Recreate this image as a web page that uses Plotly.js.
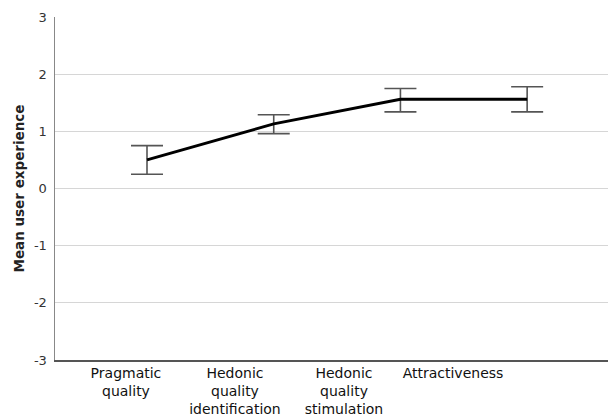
<!DOCTYPE html>
<html>
<head>
<meta charset="utf-8">
<script src="https://cdn.plot.ly/plotly-3.0.1.min.js"></script>
<style>html,body{margin:0;padding:0;background:#fff;}#chart{width:608px;height:418px;}</style>
</head>
<body>
<div id="chart"></div>
<script>
var categories = ["Pragmatic quality", "Hedonic quality identification", "Hedonic quality stimulation", "Attractiveness"];
var tickLabels = ["Pragmatic<br>quality", "Hedonic<br>quality<br>identification", "Hedonic<br>quality<br>stimulation", "Attractiveness"];
var yTickVals = [-3, -2, -1, 0, 1, 2, 3];
var yTickText = ["-3", "-2", "-1", "0", "1", "2", "3"];
var means = [0.50, 1.13, 1.56, 1.56];
var upper = [0.75, 1.29, 1.75, 1.78];
var lower = [0.25, 0.96, 1.34, 1.34];

var errPlus = means.map(function(m, i){ return upper[i] - m; });
var errMinus = means.map(function(m, i){ return m - lower[i]; });

var trace = {
  x: categories,
  y: means,
  type: 'scatter',
  mode: 'lines',
  line: {color: '#000', width: 3},
  error_y: {type: 'data', symmetric: false, array: errPlus, arrayminus: errMinus,
            color: '#555', thickness: 1.6, width: 16},
  xaxis: 'x', yaxis: 'y',
  hoverinfo: 'none'
};

var layout = {
  width: 608, height: 418,
  margin: {l: 55, r: 0, t: 17, b: 58},
  paper_bgcolor: '#fff', plot_bgcolor: '#fff',
  showlegend: false,
  font: {family: 'DejaVu Sans', color: '#222'},
  xaxis: {
    type: 'category', range: [-0.726, 3.638],
    showticklabels: false, showgrid: false, zeroline: false,
    showline: true, linecolor: '#555', linewidth: 1.5, ticks: ''
  },
  xaxis2: {
    overlaying: 'x', side: 'bottom', range: [-0.651, 4.422],
    tickmode: 'array', tickvals: [0, 1, 2, 3], ticktext: tickLabels,
    showgrid: false, zeroline: false, showline: false, ticks: '',
    ticklabelstandoff: 3,
    tickfont: {family: 'DejaVu Sans', size: 14, color: '#111'}
  },
  yaxis: {
    range: [-3, 3], tickmode: 'array', tickvals: yTickVals, ticktext: yTickText,
    showgrid: true, gridcolor: '#d6d6d6', gridwidth: 1,
    zeroline: false, showline: true, linecolor: '#888', linewidth: 1.5,
    ticks: '', ticklabelstandoff: 4,
    tickfont: {family: 'DejaVu Sans', size: 13, color: '#333'},
    title: {text: '<b>Mean user experience</b>', font: {family: 'DejaVu Sans', size: 13.5, color: '#222'}, standoff: 6}
  }
};

var dummy = {x: [0], y: [null], xaxis: 'x2', yaxis: 'y', type: 'scatter', mode: 'markers', hoverinfo: 'none'};

Plotly.newPlot('chart', [trace, dummy], layout, {displayModeBar: false, staticPlot: true});
</script>
</body>
</html>
